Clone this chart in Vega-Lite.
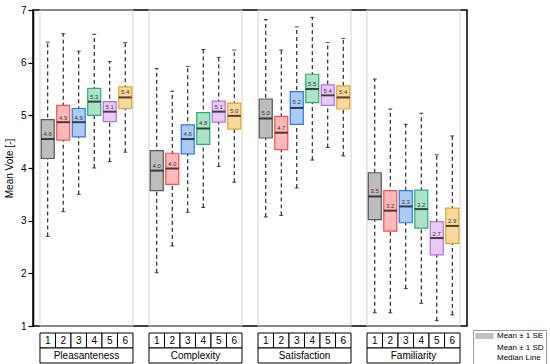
{
  "$schema": "https://vega.github.io/schema/vega-lite/v6.json",
  "padding": {"left": 3, "top": 4, "right": 0, "bottom": 0},
  "config": {
    "font": "Liberation Sans",
    "view": {"stroke": "black", "strokeWidth": 1.5},
    "concat": {"spacing": 0}
  },
  "datasets": {
    "d": [
      {"g": "Pleasanteness", "c": 1, "sdHi": 6.39, "sdLo": 2.70, "seHi": 4.92, "seLo": 4.18, "med": 4.55, "mean": 4.56},
      {"g": "Pleasanteness", "c": 2, "sdHi": 6.55, "sdLo": 3.17, "seHi": 5.19, "seLo": 4.53, "med": 4.87, "mean": 4.86},
      {"g": "Pleasanteness", "c": 3, "sdHi": 6.22, "sdLo": 3.50, "seHi": 5.13, "seLo": 4.59, "med": 4.87, "mean": 4.86},
      {"g": "Pleasanteness", "c": 4, "sdHi": 6.54, "sdLo": 4.00, "seHi": 5.51, "seLo": 5.00, "med": 5.26, "mean": 5.26},
      {"g": "Pleasanteness", "c": 5, "sdHi": 6.02, "sdLo": 4.12, "seHi": 5.26, "seLo": 4.88, "med": 5.07, "mean": 5.07},
      {"g": "Pleasanteness", "c": 6, "sdHi": 6.38, "sdLo": 4.30, "seHi": 5.54, "seLo": 5.13, "med": 5.34, "mean": 5.36},
      {"g": "Complexity", "c": 1, "sdHi": 5.89, "sdLo": 2.01, "seHi": 4.33, "seLo": 3.57, "med": 3.95, "mean": 3.96},
      {"g": "Complexity", "c": 2, "sdHi": 5.46, "sdLo": 2.52, "seHi": 4.28, "seLo": 3.69, "med": 3.99, "mean": 3.99},
      {"g": "Complexity", "c": 3, "sdHi": 5.93, "sdLo": 3.16, "seHi": 4.82, "seLo": 4.27, "med": 4.55, "mean": 4.56},
      {"g": "Complexity", "c": 4, "sdHi": 6.25, "sdLo": 3.25, "seHi": 5.05, "seLo": 4.45, "med": 4.75, "mean": 4.76},
      {"g": "Complexity", "c": 5, "sdHi": 6.10, "sdLo": 4.03, "seHi": 5.27, "seLo": 4.87, "med": 5.07, "mean": 5.07},
      {"g": "Complexity", "c": 6, "sdHi": 6.24, "sdLo": 3.73, "seHi": 5.23, "seLo": 4.74, "med": 4.99, "mean": 4.99},
      {"g": "Satisfaction", "c": 1, "sdHi": 6.82, "sdLo": 3.07, "seHi": 5.31, "seLo": 4.57, "med": 4.94, "mean": 4.96},
      {"g": "Satisfaction", "c": 2, "sdHi": 6.24, "sdLo": 3.10, "seHi": 4.98, "seLo": 4.35, "med": 4.67, "mean": 4.67},
      {"g": "Satisfaction", "c": 3, "sdHi": 6.68, "sdLo": 3.62, "seHi": 5.45, "seLo": 4.83, "med": 5.14, "mean": 5.16},
      {"g": "Satisfaction", "c": 4, "sdHi": 6.86, "sdLo": 4.15, "seHi": 5.78, "seLo": 5.24, "med": 5.50, "mean": 5.51},
      {"g": "Satisfaction", "c": 5, "sdHi": 6.38, "sdLo": 4.39, "seHi": 5.58, "seLo": 5.19, "med": 5.38, "mean": 5.38},
      {"g": "Satisfaction", "c": 6, "sdHi": 6.46, "sdLo": 4.23, "seHi": 5.56, "seLo": 5.12, "med": 5.34, "mean": 5.36},
      {"g": "Familiarity", "c": 1, "sdHi": 5.69, "sdLo": 1.25, "seHi": 3.91, "seLo": 3.02, "med": 3.46, "mean": 3.47},
      {"g": "Familiarity", "c": 2, "sdHi": 5.12, "sdLo": 1.25, "seHi": 3.57, "seLo": 2.80, "med": 3.19, "mean": 3.19},
      {"g": "Familiarity", "c": 3, "sdHi": 4.83, "sdLo": 1.71, "seHi": 3.57, "seLo": 2.96, "med": 3.27, "mean": 3.27},
      {"g": "Familiarity", "c": 4, "sdHi": 5.04, "sdLo": 1.43, "seHi": 3.58, "seLo": 2.86, "med": 3.22, "mean": 3.22},
      {"g": "Familiarity", "c": 5, "sdHi": 4.25, "sdLo": 1.10, "seHi": 2.98, "seLo": 2.35, "med": 2.67, "mean": 2.67},
      {"g": "Familiarity", "c": 6, "sdHi": 4.61, "sdLo": 1.21, "seHi": 3.24, "seLo": 2.57, "med": 2.90, "mean": 2.91}
    ],
    "leg": [
      {"item": "Mean ± 1 SE"},
      {"item": "Mean ± 1 SD"},
      {"item": "Median Line"}
    ]
  },
  "vconcat": [
    {
      "width": 434,
      "height": 316,
      "data": {"name": "d"},
      "layer": [
        {
          "transform": [{"aggregate": [{"op": "count", "as": "n"}], "groupby": ["g"]}],
          "mark": {"type": "rect", "fillOpacity": 0, "stroke": "#d2d2d2", "strokeWidth": 1},
          "encoding": {
            "x": {"field": "g", "type": "nominal", "sort": ["Pleasanteness", "Complexity", "Satisfaction", "Familiarity"], "scale": {"paddingInner": 0.147, "paddingOuter": 0.064}, "axis": null}
          }
        },
        {
          "mark": {"type": "rule", "strokeDash": [4, 3], "color": "black", "strokeWidth": 1},
          "encoding": {
            "x": {"field": "g", "type": "nominal", "sort": ["Pleasanteness", "Complexity", "Satisfaction", "Familiarity"]},
            "xOffset": {"field": "c", "type": "nominal", "scale": {"paddingInner": 0, "paddingOuter": 0}},
            "y": {"field": "sdLo", "type": "quantitative", "scale": {"domain": [1, 7], "nice": false, "zero": false}, "axis": {
              "values": [1, 1.5, 2, 2.5, 3, 3.5, 4, 4.5, 5, 5.5, 6, 6.5, 7],
              "labelExpr": "datum.value % 1 === 0 ? datum.label : ''",
              "labelOverlap": false,
              "labelFontSize": 10,
              "labelColor": "black",
              "labelPadding": 2,
              "tickColor": "black",
              "tickWidth": 1.2,
              "tickSize": {"condition": {"test": "datum.value % 1 === 0", "value": 5}, "value": 3},
              "domainColor": "black",
              "domainWidth": 1.5,
              "grid": true,
              "gridColor": "#c8c8c8",
              "gridDash": [2, 2],
              "gridOpacity": {"condition": {"test": "datum.value % 1 === 0", "value": 0}, "value": 1},
              "title": "Mean Vote [-]",
              "titleFontSize": 10,
              "titleFontWeight": "normal",
              "titleColor": "black",
              "titlePadding": 6
            }},
            "y2": {"field": "sdHi"}
          }
        },
        {
          "mark": {"type": "tick", "size": 4, "thickness": 1, "color": "black", "xOffset": 2},
          "encoding": {
            "x": {"field": "g", "type": "nominal", "sort": ["Pleasanteness", "Complexity", "Satisfaction", "Familiarity"]},
            "xOffset": {"field": "c", "type": "nominal"},
            "y": {"field": "sdHi", "type": "quantitative"}
          }
        },
        {
          "mark": {"type": "tick", "size": 4, "thickness": 1, "color": "black", "xOffset": 2},
          "encoding": {
            "x": {"field": "g", "type": "nominal", "sort": ["Pleasanteness", "Complexity", "Satisfaction", "Familiarity"]},
            "xOffset": {"field": "c", "type": "nominal"},
            "y": {"field": "sdLo", "type": "quantitative"}
          }
        },
        {
          "mark": {"type": "bar", "strokeWidth": 1.2, "width": 13},
          "encoding": {
            "x": {"field": "g", "type": "nominal", "sort": ["Pleasanteness", "Complexity", "Satisfaction", "Familiarity"]},
            "xOffset": {"field": "c", "type": "nominal"},
            "y": {"field": "seLo", "type": "quantitative"},
            "y2": {"field": "seHi"},
            "fill": {"field": "c", "type": "nominal", "scale": {"range": ["#bdbdbd", "#ffb9b9", "#abcbf5", "#abe3c8", "#e8cbf7", "#f7d99e"]}, "legend": null},
            "stroke": {"field": "c", "type": "nominal", "scale": {"range": ["#555555", "#ff4b4b", "#2a78e4", "#2aae6e", "#b56ee6", "#e6a326"]}, "legend": null}
          }
        },
        {
          "mark": {"type": "tick", "size": 13, "thickness": 2, "color": "black"},
          "encoding": {
            "x": {"field": "g", "type": "nominal", "sort": ["Pleasanteness", "Complexity", "Satisfaction", "Familiarity"]},
            "xOffset": {"field": "c", "type": "nominal"},
            "y": {"field": "med", "type": "quantitative"}
          }
        },
        {
          "mark": {"type": "text", "fontSize": 6, "baseline": "alphabetic", "dy": -2.5, "color": "#333333"},
          "encoding": {
            "x": {"field": "g", "type": "nominal", "sort": ["Pleasanteness", "Complexity", "Satisfaction", "Familiarity"]},
            "xOffset": {"field": "c", "type": "nominal"},
            "y": {"field": "mean", "type": "quantitative"},
            "text": {"field": "mean", "format": ".1f"}
          }
        },
        {
          "data": {"name": "leg"},
          "mark": {"type": "point", "opacity": 0, "filled": true},
          "encoding": {
            "color": {"field": "item", "type": "nominal", "scale": {"domain": ["Mean ± 1 SE", "Mean ± 1 SD", "Median Line"], "range": ["#c0c0c0", "black", "black"]},
              "legend": {"title": null, "orient": "none", "legendX": 440, "legendY": 320, "strokeColor": "#999999", "fillColor": "white", "padding": 2, "labelFontSize": 8, "labelColor": "black", "rowPadding": 0, "symbolSize": 49, "symbolOffset": 5.5, "labelOffset": 8.5, "symbolStrokeColor": "#555555", "symbolStrokeWidth": 1, "symbolOpacity": 1}},
            "shape": {"field": "item", "type": "nominal", "scale": {"domain": ["Mean ± 1 SE", "Mean ± 1 SD", "Median Line"], "range": ["M-2.6,-0.85H2.6V0.85H-2.6Z", "M-0.6,-1.15H0.6M0,-1.15V0.3M-0.4,1.05H0.4", "M-2.6,0H2.6"]},
              "legend": {"title": null, "orient": "none", "legendX": 440, "legendY": 320, "strokeColor": "#999999", "fillColor": "white", "padding": 2, "labelFontSize": 8, "labelColor": "black", "rowPadding": 0, "symbolSize": 49, "symbolOffset": 5.5, "labelOffset": 8.5, "symbolStrokeColor": "#555555", "symbolStrokeWidth": 1, "symbolOpacity": 1}}
          }
        }
      ]
    },
    {
      "width": 434,
      "height": 30,
      "view": {"stroke": null},
      "data": {"name": "d"},
      "layer": [
        {
          "mark": {"type": "rect", "fill": "white", "stroke": "black", "strokeWidth": 1},
          "encoding": {
            "x": {"field": "g", "type": "nominal", "sort": ["Pleasanteness", "Complexity", "Satisfaction", "Familiarity"], "scale": {"paddingInner": 0.147, "paddingOuter": 0.064}, "axis": null},
            "xOffset": {"field": "c", "type": "nominal", "scale": {"paddingInner": 0, "paddingOuter": 0}},
            "y": {"datum": "num", "type": "nominal", "scale": {"domain": ["num", "name"], "paddingInner": 0, "paddingOuter": 0}, "axis": null}
          }
        },
        {
          "mark": {"type": "text", "fontSize": 10, "color": "black", "baseline": "middle"},
          "encoding": {
            "x": {"field": "g", "type": "nominal", "sort": ["Pleasanteness", "Complexity", "Satisfaction", "Familiarity"]},
            "xOffset": {"field": "c", "type": "nominal"},
            "y": {"datum": "num", "type": "nominal"},
            "text": {"field": "c"}
          }
        },
        {
          "transform": [{"aggregate": [{"op": "count", "as": "n"}], "groupby": ["g"]}],
          "mark": {"type": "rect", "fill": "white", "stroke": "black", "strokeWidth": 1},
          "encoding": {
            "x": {"field": "g", "type": "nominal", "sort": ["Pleasanteness", "Complexity", "Satisfaction", "Familiarity"]},
            "y": {"datum": "name", "type": "nominal"}
          }
        },
        {
          "transform": [{"aggregate": [{"op": "count", "as": "n"}], "groupby": ["g"]}],
          "mark": {"type": "text", "fontSize": 10, "color": "black", "baseline": "middle"},
          "encoding": {
            "x": {"field": "g", "type": "nominal", "sort": ["Pleasanteness", "Complexity", "Satisfaction", "Familiarity"]},
            "y": {"datum": "name", "type": "nominal"},
            "text": {"field": "g"}
          }
        }
      ]
    }
  ]
}
